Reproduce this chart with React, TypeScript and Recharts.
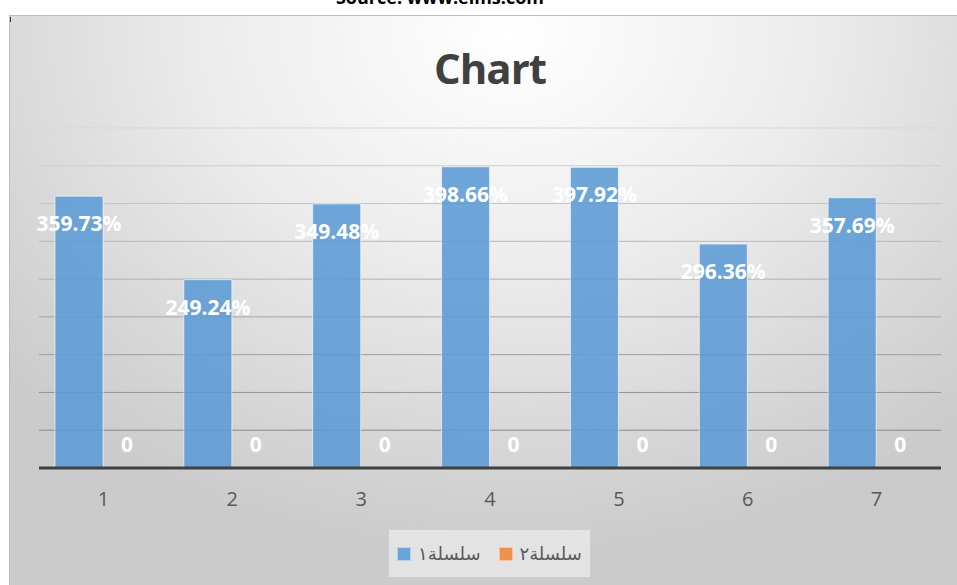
import React from "react";
import { BarChart, Bar, XAxis, YAxis, CartesianGrid, LabelList } from "recharts";

const categories = ["1", "2", "3", "4", "5", "6", "7"];
const series1 = [359.73, 249.24, 349.48, 398.66, 397.92, 296.36, 357.69];
const series2 = [0, 0, 0, 0, 0, 0, 0];
const yTicks = [0, 50, 100, 150, 200, 250, 300, 350, 400, 450];
const seriesNames = ["سلسلة١", "سلسلة٢"];

const data = categories.map((c, i) => ({ name: c, s1: series1[i], s2: series2[i] }));

const FONT = "'Open Sans', 'Noto Sans', 'DejaVu Sans', sans-serif";

const gridColor = (y: number) => {
  const t = Math.max(0, Math.min(1, (y - 128) / (431 - 128)));
  const v = Math.round(215 - t * 78);
  return `rgb(${v},${v},${v})`;
};

const GridLine = (props: any) => {
  const { x1, x2, y1, y2 } = props;
  const absY = y1 + 15;
  if (absY > 460) return <g />;
  return <line x1={x1} x2={x2} y1={y1} y2={y2} stroke={gridColor(absY)} strokeWidth={1} />;
};

const Tick = (props: any) => {
  const { x, y, payload } = props;
  return (
    <text x={x} y={y + 38} textAnchor="middle" fill="#595959" fontSize={20} fontFamily={FONT}>
      {payload.value}
    </text>
  );
};

const Label1 = (props: any) => {
  const { x, y, width, value } = props;
  return (
    <text x={x + width / 2} y={y + 35} textAnchor="middle" fill="#ffffff" fontSize={21} fontWeight={700} fontFamily={FONT}>
      {`${Number(value).toFixed(2)}%`}
    </text>
  );
};

// label for the (zero-height) second series, placed in the second bar slot at the baseline
const Label2 = (props: any) => {
  const { x, y, width, height, value } = props;
  return (
    <text x={x + width * 1.5} y={y + height - 16} textAnchor="middle" fill="#ffffff" fontSize={21} fontWeight={700} fontFamily={FONT}>
      {String(value)}
    </text>
  );
};

export default function App() {
  return (
    <div style={{ position: "absolute", left: 0, top: 0, width: 957, height: 585, overflow: "hidden", background: "#ffffff" }}>
      <div
        style={{
          position: "absolute",
          left: 0,
          width: 880,
          top: -12,
          textAlign: "center",
          fontFamily: FONT,
          fontWeight: 700,
          fontSize: 18,
          lineHeight: "18px",
          color: "#000",
        }}
      >
        Source: www.elms.com
      </div>
      <div
        style={{
          position: "absolute",
          left: 9,
          top: 15,
          width: 960,
          height: 580,
          borderTop: "1px solid #bdbdbd",
          borderLeft: "1px solid #bdbdbd",
          background: "radial-gradient(ellipse 70% 90% at 52% 3%, #ffffff 0%, #ececec 45%, #d6d6d6 80%, #cbcbcb 100%)",
        }}
      />
      <div style={{ position: "absolute", left: 10, top: 17, width: 1, height: 5, background: "#333" }} />
      <div
        style={{
          position: "absolute",
          left: 0,
          width: 980,
          top: 40,
          textAlign: "center",
          fontFamily: FONT,
          fontWeight: 700,
          fontSize: 42,
          letterSpacing: -1,
          lineHeight: "56px",
          color: "#404040",
        }}
      >
        Chart
      </div>
      <div style={{ position: "absolute", left: 9, top: 15 }}>
        <BarChart
          width={948}
          height={570}
          data={data}
          margin={{ top: 113, right: 16, left: 30, bottom: 77 }}
          barGap={0}
        >
          <CartesianGrid vertical={false} horizontal={GridLine} />
          <YAxis hide domain={[0, 450]} ticks={yTicks} />
          <XAxis
            dataKey="name"
            height={40}
            tickSize={0}
            tickMargin={0}
            tickLine={false}
            axisLine={{ stroke: "#404040", strokeWidth: 3 }}
            tick={<Tick />}
          />
          <Bar dataKey="s1" name={seriesNames[0]} barSize={48} fill="#5b9bd5" fillOpacity={0.88} stroke="#ffffff" strokeOpacity={0.6} strokeWidth={1} isAnimationActive={false}>
            <LabelList dataKey="s1" content={<Label1 />} />
            <LabelList dataKey="s2" content={<Label2 />} />
          </Bar>
          <Bar dataKey="s2" name={seriesNames[1]} barSize={48} fill="#ed7d31" fillOpacity={0.88} isAnimationActive={false} />
        </BarChart>
      </div>
      <div
        style={{
          position: "absolute",
          left: 389,
          top: 530,
          width: 201,
          height: 47,
          background: "rgba(235,235,235,0.75)",
          display: "flex",
          alignItems: "center",
          justifyContent: "center",
          gap: 18,
          fontFamily: "'DejaVu Sans', 'Noto Sans', sans-serif",
          fontSize: 18,
          color: "#595959",
        }}
      >
        <div style={{ display: "flex", alignItems: "center", gap: 7 }}>
          <span style={{ width: 12, height: 12, background: "#6aa3d8", border: "1px solid #b9d3ee", display: "inline-block" }} />
          <span dir="rtl">{seriesNames[0]}</span>
        </div>
        <div style={{ display: "flex", alignItems: "center", gap: 7 }}>
          <span style={{ width: 12, height: 12, background: "#f0904f", border: "1px solid #f7c6a4", display: "inline-block" }} />
          <span dir="rtl">{seriesNames[1]}</span>
        </div>
      </div>
    </div>
  );
}
